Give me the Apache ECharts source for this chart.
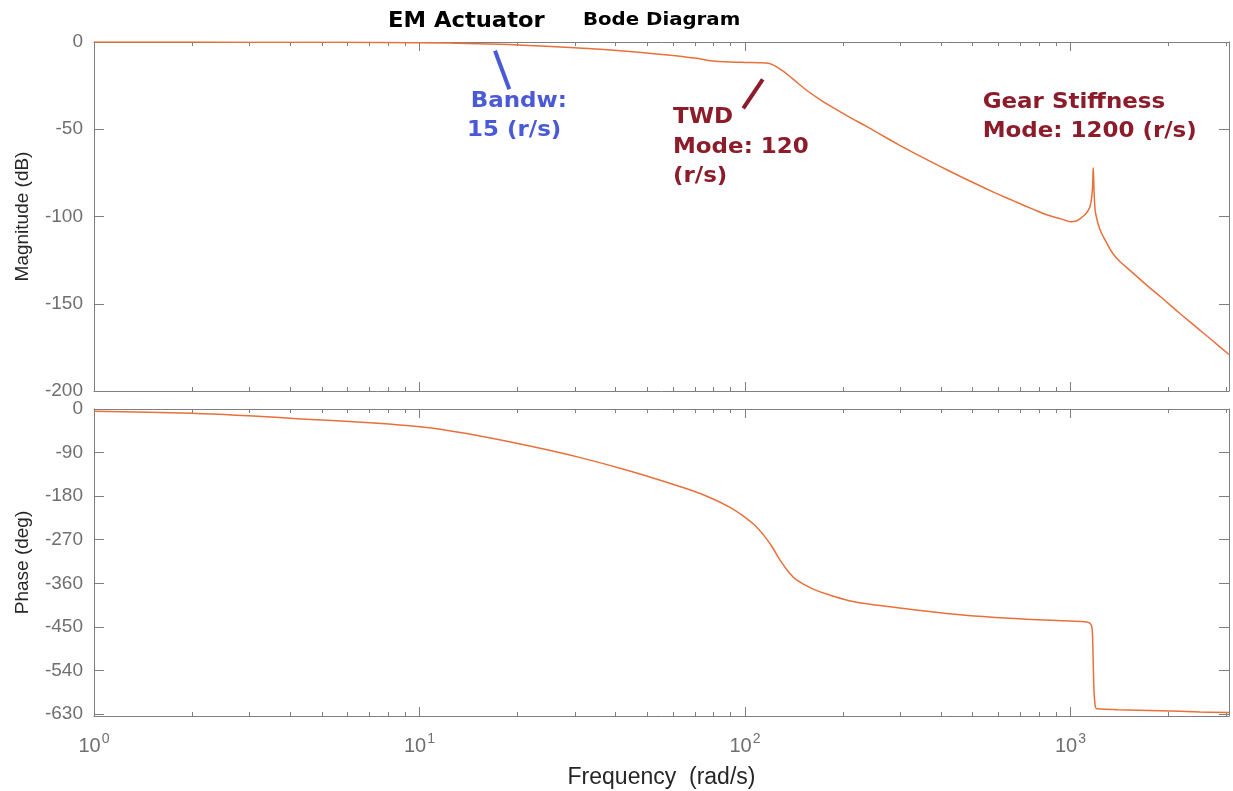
<!DOCTYPE html>
<html><head><meta charset="utf-8">
<script src="https://cdn.jsdelivr.net/npm/echarts@6/dist/echarts.min.js"></script>
<style>html,body{margin:0;padding:0;background:#fff}#c{width:1233px;height:791px}</style>
</head><body><div id="c"></div>
<script>
// ---- data ----
const magFreq = [1, 3, 6, 10, 15, 20, 30, 36, 50, 58, 70, 80, 90, 100, 110, 116, 122, 130, 140, 155, 170, 186, 210, 237, 270, 299, 350, 417, 500, 580, 666, 760, 845, 920, 970, 1000, 1040, 1092, 1120, 1148, 1162, 1170, 1175, 1182, 1190, 1197, 1232, 1291, 1353, 1430, 1524, 1714, 1900, 2170, 2450, 2746, 3070];
const magDb = [0, -0.1, -0.2, -0.4, -1, -1.7, -3.3, -4.2, -6.3, -7.4, -9.2, -10.9, -11.4, -11.7, -11.9, -12, -13.1, -16.3, -21, -27.8, -33, -37.5, -43.2, -48.5, -54.6, -59.2, -66, -73.2, -80.4, -86, -90.9, -95.5, -99, -101, -102.3, -103, -102.6, -100, -98, -94.4, -89, -82, -72, -86, -96, -99, -107.5, -115, -121.5, -126.4, -130.9, -139.3, -146.3, -155.6, -163.8, -171.5, -179.1];
const phaseFreq = [1, 2, 4, 10, 15.3, 22, 31, 44, 63, 76, 90, 101, 107, 114, 121, 128, 136, 144, 162, 182, 215, 260, 458, 733, 1000, 1122, 1146, 1160, 1167, 1175, 1181, 1190, 1196, 1205, 1400, 1884, 2500, 3070];
const phaseDeg = [-4.5, -9, -19, -36.5, -55.7, -77, -99.9, -127.6, -160, -179.6, -203, -225.7, -239.4, -260, -284, -311.7, -336, -353, -372, -384, -397.7, -406, -425, -434, -438, -440, -442, -447, -456, -524, -580, -611, -617, -619, -621, -623, -625.5, -627];
const magTicks = [0, -50, -100, -150, -200];
const phaseTicks = [0, -90, -180, -270, -360, -450, -540, -630];
const freqMin = 1, freqMax = 3070;
const bandwLine = [[17.06, -5.0], [18.88, -27.1]];
const twdLine = [[98.8, -38.0], [113.4, -21.4]];

// minor log ticks (axis decoration)
const minorTicks = [];
for (let k = 0; k <= 3; k++) for (let m = 2; m <= 9; m++) { const v = m * Math.pow(10, k); if (v < freqMax) minorTicks.push(v); }

const AX = '#7f7f7f', LBL = '#6f6f6f', NAME = '#262626', LINE = '#e8703a';
const FONT = '"Liberation Sans", Arial, sans-serif';

function xAx(grid, pos, labels) {
  return {
    type: 'log', logBase: 10, gridIndex: grid, position: pos, min: freqMin, max: freqMax,
    axisLine: { show: true, onZero: false, lineStyle: { color: AX, width: 1 } },
    axisTick: { show: true, inside: true, length: 9, lineStyle: { color: AX } },
    splitLine: { show: false }, minorTick: { show: false },
    axisLabel: labels ? {
      show: true, margin: 16, showMaxLabel: false,
      formatter: function (v) { const e = Math.log10(v); const r = Math.round(e); return Math.abs(e - r) < 1e-6 ? '{b|10}{s|' + r + '}' : ''; },
      rich: {
        b: { fontSize: 20, fontFamily: FONT, color: LBL, lineHeight: 24, verticalAlign: 'bottom' },
        s: { fontSize: 14, fontFamily: FONT, color: LBL, lineHeight: 14, verticalAlign: 'top', padding: [0, 0, 0, 1] }
      }
    } : { show: false },
    name: labels ? 'Frequency  (rad/s)' : '', nameLocation: 'middle', nameGap: 50,
    nameTextStyle: { fontSize: 23, fontFamily: FONT, color: NAME }
  };
}
function yAx(grid, pos, min, max, ticks, name) {
  const left = pos === 'left';
  return {
    type: 'value', gridIndex: grid, position: pos, min: min, max: max,
    axisLine: { show: true, onZero: false, lineStyle: { color: AX, width: 1 } },
    axisTick: { show: true, inside: true, length: 10, customValues: ticks, lineStyle: { color: AX } },
    splitLine: { show: false },
    axisLabel: left ? { show: true, customValues: ticks, margin: 11, fontSize: 19, fontFamily: FONT, color: LBL } : { show: false, customValues: ticks },
    name: left ? name : '', nameLocation: 'middle', nameGap: 62, nameRotate: 90,
    nameTextStyle: { fontSize: 19, fontFamily: FONT, color: NAME }
  };
}
function minorTickItem(params, api) {
  const cs = params.coordSys;
  const x = Math.round(api.coord([api.value(0), api.value(1)])[0]) + 0.5;
  const st = { stroke: AX, lineWidth: 1 };
  return { type: 'group', children: [
    { type: 'line', shape: { x1: x, y1: cs.y, x2: x, y2: cs.y + 4 }, style: st },
    { type: 'line', shape: { x1: x, y1: cs.y + cs.height, x2: x, y2: cs.y + cs.height - 4 }, style: st }
  ] };
}
function txt(text, x, y, font, color, sx) {
  return { type: 'text', x: x, y: y, scaleX: sx || 1, silent: true, z: 100,
    style: { text: text, x: 0, y: 0, font: font, fill: color, verticalAlign: 'middle', align: 'left' } };
}
const BLUE = '#4a5ad6', DRED = '#8c1c2a';
const AF = 'bold 20.5px "DejaVu Sans", sans-serif';

const chart = echarts.init(document.getElementById('c'), null, { renderer: 'canvas' });
chart.setOption({
  animation: false,
  backgroundColor: '#ffffff',
  grid: [
    { left: 94, top: 42, width: 1135, height: 349, containLabel: false, outerBoundsMode: 'none' },
    { left: 94, top: 409, width: 1135, height: 307, containLabel: false, outerBoundsMode: 'none' }
  ],
  xAxis: [xAx(0, 'bottom', false), xAx(0, 'top', false), xAx(1, 'bottom', true), xAx(1, 'top', false)],
  yAxis: [
    yAx(0, 'left', -200, 0, magTicks, 'Magnitude (dB)'), yAx(0, 'right', -200, 0, magTicks, ''),
    yAx(1, 'left', -634, 0, phaseTicks, 'Phase (deg)'), yAx(1, 'right', -634, 0, phaseTicks, '')
  ],
  series: [
    { type: 'line', xAxisIndex: 0, yAxisIndex: 0, data: magFreq.map((f, i) => [f, magDb[i]]),
      showSymbol: false, smooth: 0.4, lineStyle: { color: LINE, width: 1.5 }, silent: true, z: 5,
      markLine: { silent: true, symbol: ['none', 'none'], label: { show: false }, animation: false,
        data: [
          [{ coord: bandwLine[0], lineStyle: { color: BLUE, width: 4, type: 'solid' } }, { coord: bandwLine[1] }],
          [{ coord: twdLine[0], lineStyle: { color: DRED, width: 4, type: 'solid' } }, { coord: twdLine[1] }]
        ] } },
    { type: 'line', xAxisIndex: 2, yAxisIndex: 2, data: phaseFreq.map((f, i) => [f, phaseDeg[i]]),
      showSymbol: false, smooth: 0.4, lineStyle: { color: LINE, width: 1.5 }, silent: true, z: 5 },
    { type: 'custom', xAxisIndex: 0, yAxisIndex: 0, data: minorTicks.map(v => [v, 0]), renderItem: minorTickItem, silent: true, clip: false },
    { type: 'custom', xAxisIndex: 2, yAxisIndex: 2, data: minorTicks.map(v => [v, 0]), renderItem: minorTickItem, silent: true, clip: false }
  ],
  graphic: [
    txt('EM Actuator', 388, 21.5, 'bold 22px "DejaVu Sans", sans-serif', '#000', 1.03),
    txt('Bode Diagram', 583, 20, 'bold 18.3px "DejaVu Sans", sans-serif', '#000', 1.08),
    txt('Bandw:', 470.7, 101.3, AF, BLUE, 1.12),
    txt('15 (r/s)', 467, 130.5, AF, BLUE, 1.12),
    txt('TWD', 673, 117.5, AF, DRED, 1.12),
    txt('Mode: 120', 673, 147.5, AF, DRED, 1.12),
    txt('(r/s)', 673, 177, AF, DRED, 1.12),
    txt('Gear Stiffness', 982.7, 102.5, AF, DRED, 1.12),
    txt('Mode: 1200 (r/s)', 982.7, 131.2, AF, DRED, 1.12)
  ]
});
</script></body></html>
